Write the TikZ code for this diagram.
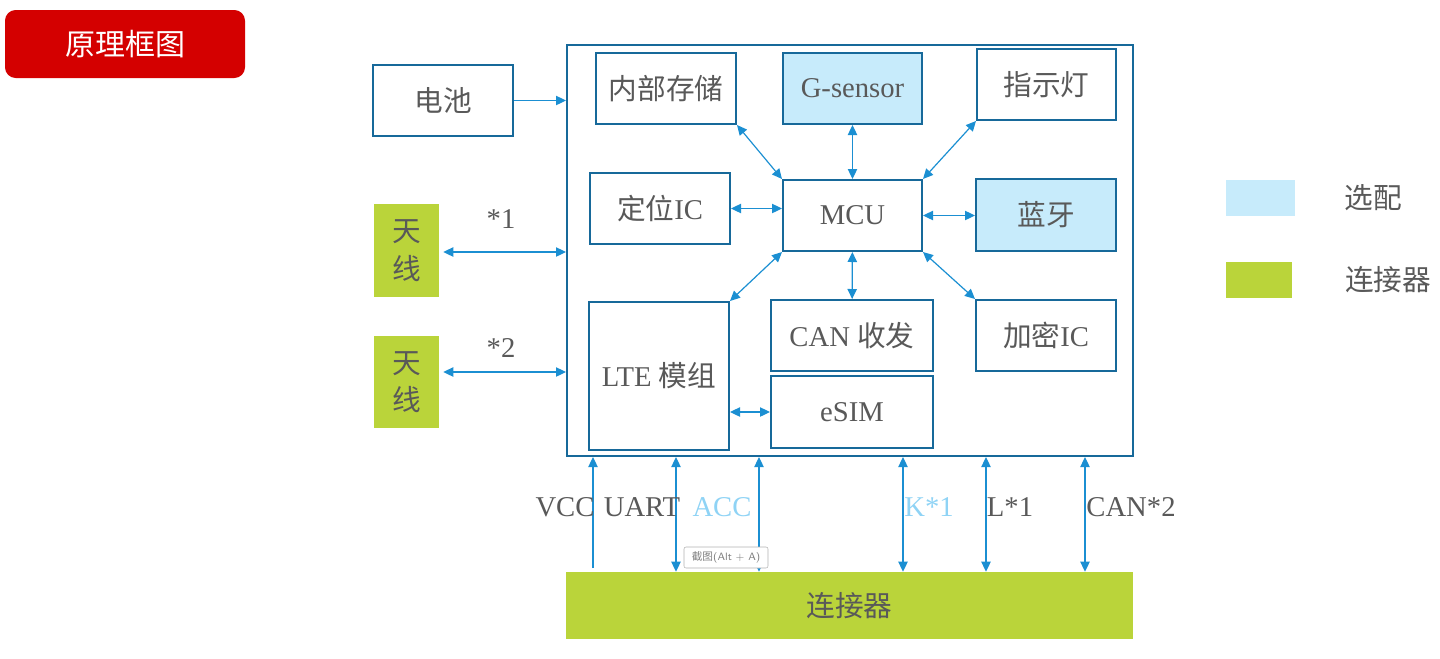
\documentclass[tikz,border=0pt]{standalone}
\usepackage{fontspec}
\setmainfont{Liberation Serif}
\newfontfamily\zhfont{Noto Sans CJK SC}
\newcommand{\zh}[1]{{\zhfont #1}}
\usetikzlibrary{arrows.meta,positioning}

\definecolor{boxblue}{HTML}{17699A}
\definecolor{linkblue}{HTML}{1B8FD2}
\definecolor{optblue}{HTML}{C7EBFB}
\definecolor{conngreen}{HTML}{BAD43A}
\definecolor{txtgray}{HTML}{595959}
\definecolor{paleblue}{HTML}{8FD3F5}
\definecolor{titlered}{HTML}{D40000}

\begin{document}
\begin{tikzpicture}[
                x=0.75pt, y=-0.75pt,
                every node/.append style={text=txtgray, font=\fontsize{21.5}{26}\selectfont},
                sz/.style 2 args={minimum width=#1*0.75pt, minimum height=#2*0.75pt, inner sep=0pt},
                box/.style={draw=boxblue, line width=1.5pt, fill=white},
                opt/.style={box, fill=optblue},
                conn/.style={fill=conngreen, inner sep=0pt},
                link/.style={draw=linkblue, line width=0.9pt, {Triangle[length=7.5pt,width=7pt]}-{Triangle[length=7.5pt,width=7pt]}},
                feed/.style={draw=linkblue, line width=0.9pt, -{Triangle[length=7.5pt,width=7pt]}}
            ]
                \useasboundingbox (0,0) rectangle (1440,658);

                % title
                \node (title) [sz={240}{68}, fill=titlered, rounded corners=8pt, text=white, font=\fontsize{22.5}{26}\selectfont] at (125,44) {\zh{原理框图}};

                % module
                \node (outer) [box, sz={566}{411}, fill=none] at (850,250.5) {};
                \node (store) [box, sz={140}{71}] at (666,88.5) {\zh{内部存储}};
                \node (gsen)  [opt, sz={139}{71}] at (852.5,88.5) {G-sensor};
                \node (led)   [box, sz={139}{71}] at (1046.5,84.5) {\zh{指示灯}};
                \node (gnss)  [box, sz={140}{71}] at (660,208.5) {\zh{定位}IC};
                \node (mcu)   [box, sz={139}{71}] at (852.5,215.5) {MCU};
                \node (bt)    [opt, sz={140}{72}] at (1046,215) {\zh{蓝牙}};
                \node (lte)   [box, sz={140}{148}] at (659,376) {LTE \zh{模组}};
                \node (can)   [box, sz={162}{71}] at (852,335.5) {CAN \zh{收发}};
                \node (esim)  [box, sz={162}{72}] at (852,412) {eSIM};
                \node (sec)   [box, sz={140}{71}] at (1046,335.5) {\zh{加密}IC};

                % outside
                \node (bat)  [box, sz={140}{71}] at (443,100.5) {\zh{电池}};
                \node (ant1) [conn, sz={65}{93}, align=center] at (406.5,250.5) {\zh{天}\\[2pt]\zh{线}};
                \node (ant2) [conn, sz={65}{92}, align=center] at (406.5,382) {\zh{天}\\[2pt]\zh{线}};
                \node (n1) at (501,219) {*1};
                \node (n2) at (501,348) {*2};
                \node (plug) [conn, sz={567}{67}] at (849.5,605.5) {\zh{连接器}};

                % links to mcu
                \draw[link] (store.south east) -- (mcu.north west);
                \draw[link] (gsen) -- (mcu);
                \draw[link] (led.south west) -- (mcu.north east);
                \draw[link] (gnss.east) -- (gnss.east -| mcu.west);
                \draw[link] (mcu.east) -- (mcu.east -| bt.west);
                \draw[link] (mcu.south west) -- (lte.north east);
                \draw[link] (mcu) -- (can);
                \draw[link] (mcu.south east) -- (sec.north west);
                \draw[link] (lte.east |- esim.west) -- (esim.west);

                % links to outside
                \draw[feed] (bat.east) -- (bat.east -| outer.west);
                \draw[link] ([xshift=3pt]ant1.east |- 0,252) -- (outer.west |- 0,252);
                \draw[link] ([xshift=3pt]ant2.east |- 0,372) -- (outer.west |- 0,372);

                % bus lines
                \draw[feed] (593,568) -- (593,0 |- outer.south);
                \draw[link] (676,0 |- plug.north) -- (676,0 |- outer.south);
                \draw[link] (759,0 |- plug.north) -- (759,0 |- outer.south);
                \draw[link] (903,0 |- plug.north) -- (903,0 |- outer.south);
                \draw[link] (986,0 |- plug.north) -- (986,0 |- outer.south);
                \draw[link] (1085,0 |- plug.north) -- (1085,0 |- outer.south);
                \node (vcc)  at (565,507) {VCC};
                \node (uart) at (642,507) {UART};
                \node (acc)  [text=paleblue] at (722,507) {ACC};
                \node (kl)   [text=paleblue] at (929,507) {K*1};
                \node (ll)   at (1010,507) {L*1};
                \node (cl)   at (1131,507) {CAN*2};
                \node (tip) [draw=gray!60, fill=white, rounded corners=1.5pt, sz={84}{21}, font=\sffamily\fontsize{8}{9}\selectfont, text=gray] at (726,557.5) {\zh{截图}(Alt + A)};

                % legend
                \node (lgopt)  [fill=optblue, sz={69}{36}] at (1260.5,198) {};
                \node (lgoptt) at (1373,198) {\zh{选配}};
                \node (lgcon)  [fill=conngreen, sz={66}{36}] at (1259,280) {};
                \node (lgcont) at (1388,280) {\zh{连接器}};
            \end{tikzpicture}
\end{document}
